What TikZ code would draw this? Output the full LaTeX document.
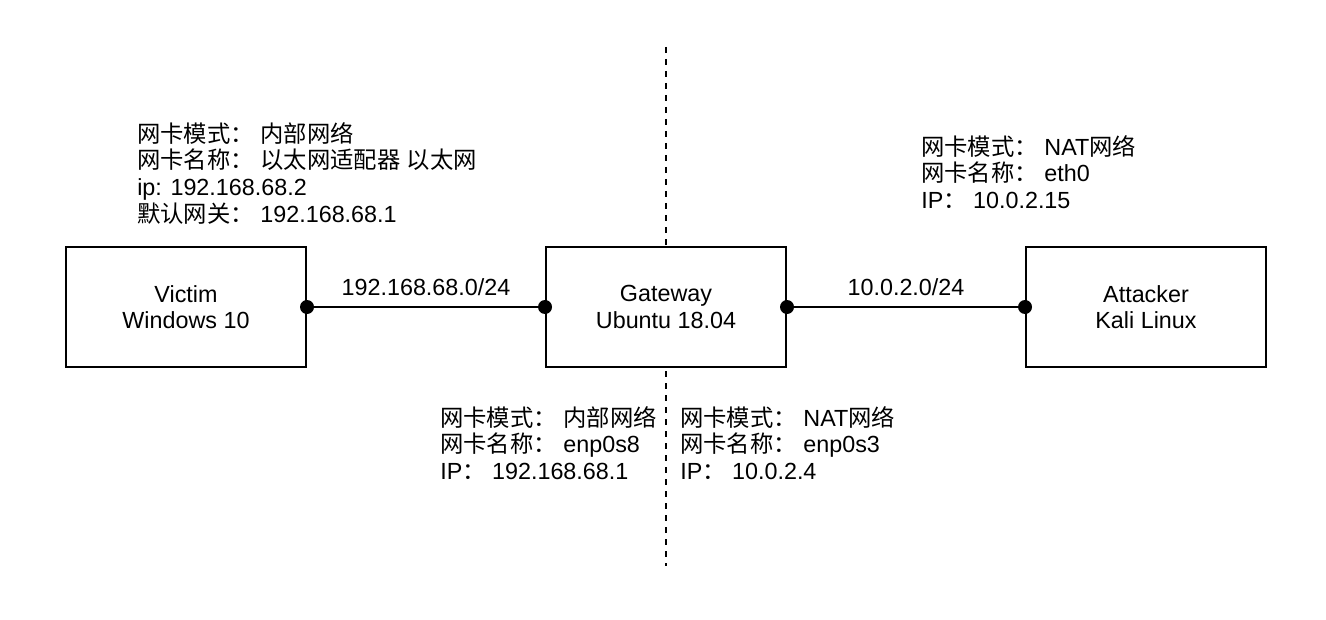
\documentclass[tikz,border=0pt]{standalone}
\usepackage{fontspec}
\setmainfont{Liberation Sans}
\newfontfamily\cjk{Noto Sans CJK SC}
\usetikzlibrary{calc}

\newcommand{\zhtext}[1]{{\cjk #1}}

\tikzset{
  txt/.style={font=\fontsize{17.5pt}{20pt}\selectfont},
  host/.style={txt, draw=black, line width=1.5pt, fill=white,
    minimum width=180pt, minimum height=90pt, align=center},
  info/.style={txt, anchor=north west, inner sep=0pt, align=left},
  link/.style={black, line width=1.5pt},
  net/.style={txt, anchor=base, yshift=9pt, inner sep=0pt}
}

\begin{document}
\begin{tikzpicture}[x=0.75pt, y=-0.75pt]
\useasboundingbox (0,0) rectangle (1326,620);

\coordinate (top) at (666,47);
\coordinate (bottom) at (666,566);
\draw[black, line width=1.5pt, dash pattern=on 4.5pt off 4.5pt] (top)--(bottom);

% hosts
\node[host] (victim) at (186,307) {Victim\\Windows 10};
\node[host] (gateway) at (666,307) {Gateway\\Ubuntu 18.04};
\node[host] (attacker) at (1146,307) {Attacker\\Kali Linux};

% links
\draw[link] (victim.east) -- node[net] {192.168.68.0/24} (gateway.west);
\draw[link] (gateway.east) -- node[net] {10.0.2.0/24} (attacker.west);
\fill[black] (victim.east) circle (5.25pt);
\fill[black] (gateway.west) circle (5.25pt);
\fill[black] (gateway.east) circle (5.25pt);
\fill[black] (attacker.west) circle (5.25pt);

% adapters
\node[info] (victimcfg) at (137,122) {\zhtext{网卡模式：} \zhtext{内部网络}\\
  \zhtext{网卡名称：} \zhtext{以太网适配器} \zhtext{以太网}\\
  ip: 192.168.68.2\\
  \zhtext{默认网关：} 192.168.68.1};
\node[info] (attackercfg) at (921,135) {\zhtext{网卡模式：} NAT\zhtext{网络}\\
  \zhtext{网卡名称：} eth0\\
  IP\zhtext{：} 10.0.2.15};
\node[info] (innercfg) at (440,406) {\zhtext{网卡模式：} \zhtext{内部网络}\\
  \zhtext{网卡名称：} enp0s8\\
  IP\zhtext{：} 192.168.68.1};
\node[info] (natcfg) at (680,406) {\zhtext{网卡模式：} NAT\zhtext{网络}\\
  \zhtext{网卡名称：} enp0s3\\
  IP\zhtext{：} 10.0.2.4};

\end{tikzpicture}
\end{document}
